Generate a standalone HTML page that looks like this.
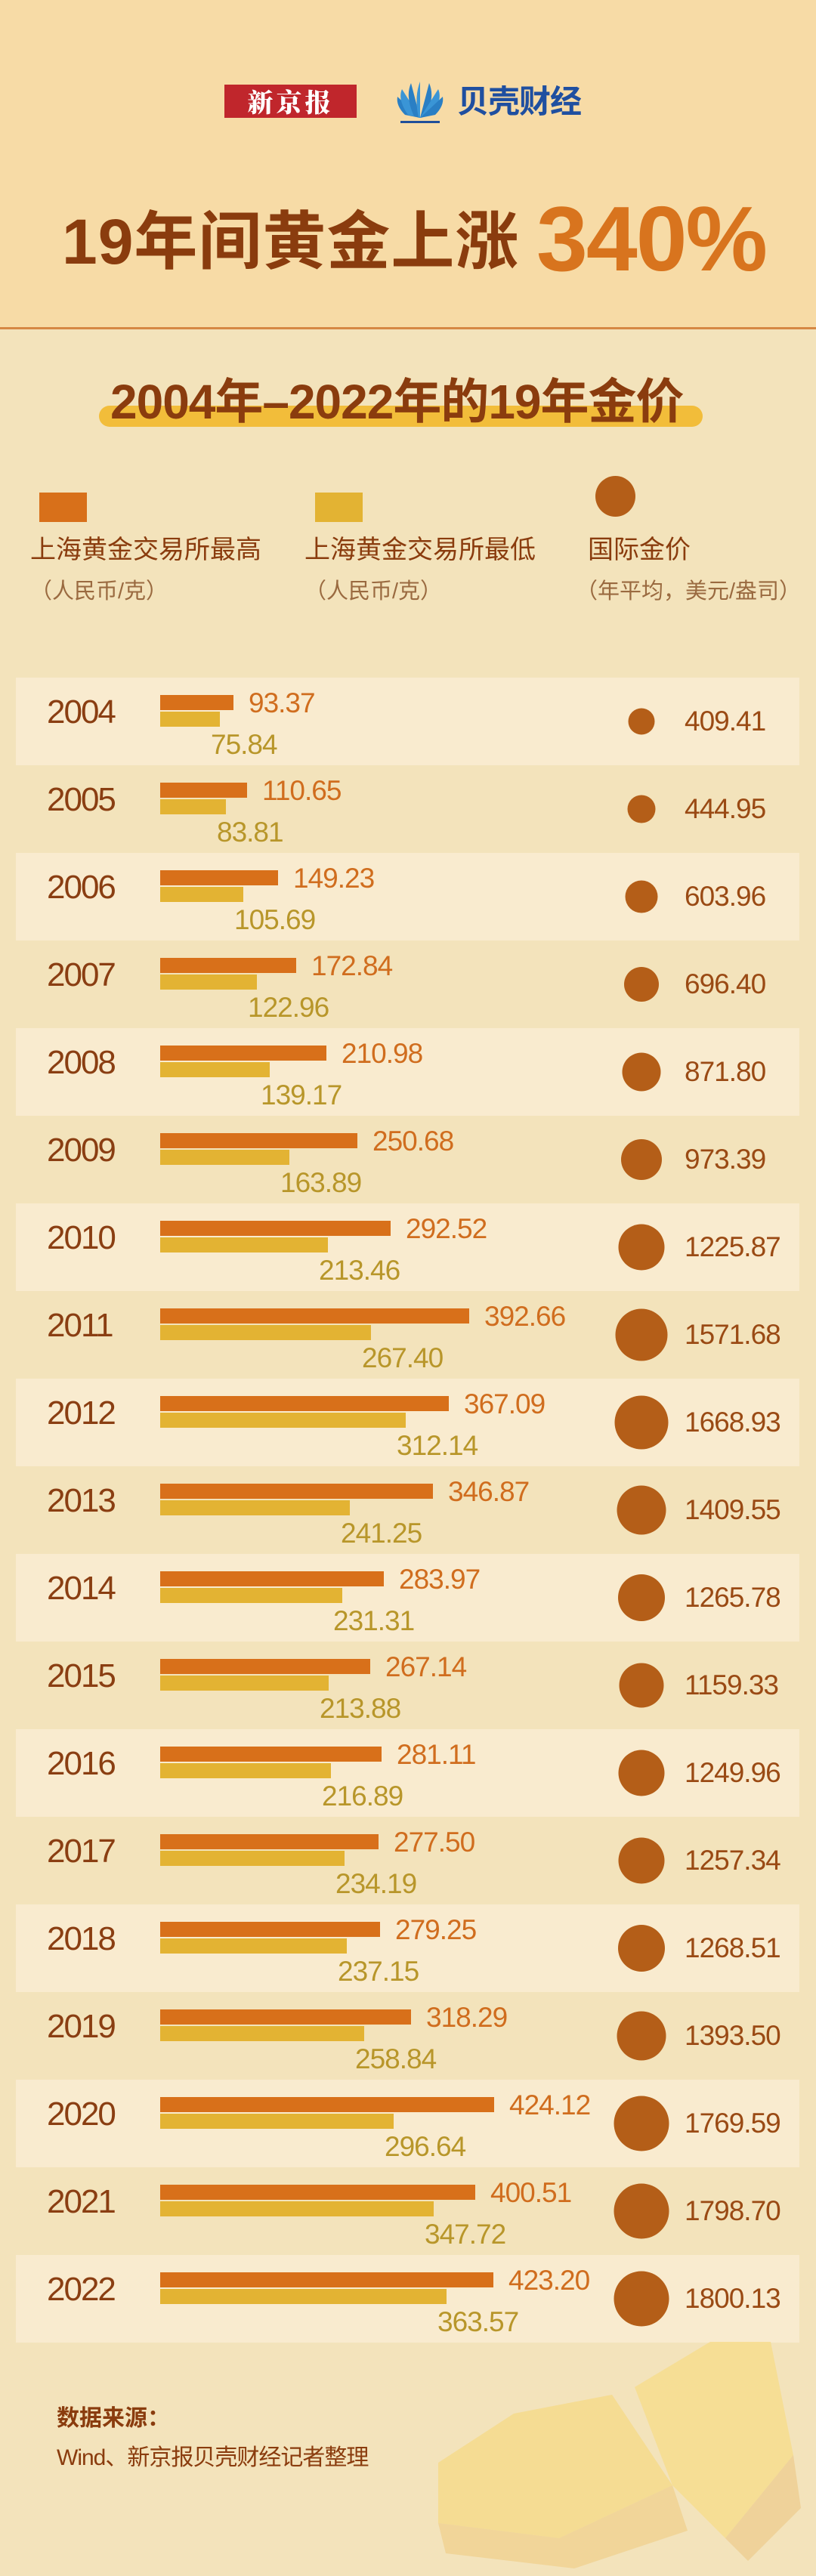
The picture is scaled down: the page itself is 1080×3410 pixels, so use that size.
<!DOCTYPE html>
<html><head><meta charset="utf-8">
<style>
*{margin:0;padding:0;box-sizing:border-box}
body{width:1080px;height:3410px;position:relative;overflow:hidden;background:#f3e3bb;font-family:"Liberation Sans","Noto Sans CJK SC",sans-serif}
.abs{position:absolute}
.hdr{left:0;top:0;width:1080px;height:434px;background:#f7dba6}
.line{left:0;top:433px;width:1080px;height:3px;background:#d68844}
.row{position:absolute;left:21px;width:1037px;height:116px}
.row.b{background:#f9ebcf}
.yr{position:absolute;left:41px;top:24px;font-size:44px;line-height:44px;color:#8a3e12;letter-spacing:-2px}
.o{position:absolute;left:191px;top:23px;height:20px;background:#d8701a}
.y{position:absolute;left:191px;top:45px;height:20px;background:#e3b333}
.o span{position:absolute;left:calc(100% + 20px);top:-8px;font-size:37px;line-height:38px;color:#d06d1e;white-space:nowrap;letter-spacing:-1px}
.y span{position:absolute;left:calc(100% - 12px);top:25px;font-size:37px;line-height:38px;color:#b8962a;white-space:nowrap;letter-spacing:-1px}
.c{position:absolute;border-radius:50%;background:#b45e18;transform:translate(-50%,-50%);left:828px;top:58px}
.v{position:absolute;left:885px;top:39px;font-size:37px;line-height:38px;color:#9a4a14;letter-spacing:-1px}
</style></head><body>
<div class="abs hdr"></div>
<div class="abs line"></div>
<div class="abs" style="left:297px;top:112px;width:175px;height:44px;background:#c0262c;color:#fff;font-family:'Noto Serif CJK SC',serif;font-weight:900;font-size:34px;line-height:44px;text-align:center;letter-spacing:4px">新京报</div>
<svg class="abs" style="left:518px;top:106px" width="76" height="60" viewBox="0 0 76 60">
<g fill="#2a7fc4"><path d="M38 50 L8 22 Q6 34 18 46Z"/><path d="M38 50 L14 12 Q8 26 22 46Z" fill="#3a95d6"/><path d="M38 50 L26 4 Q18 22 30 48Z"/><path d="M38 50 L38 2 Q30 22 36 50Z" fill="#3a95d6"/><path d="M38 50 L50 4 Q58 22 46 48Z"/><path d="M38 50 L62 12 Q68 26 54 46Z" fill="#3a95d6"/><path d="M38 50 L68 22 Q70 34 58 46Z"/></g>
<rect x="12" y="54" width="52" height="3" fill="#1f4f9a"/></svg>
<div class="abs" style="left:605px;top:112px;font-size:42px;line-height:46px;font-weight:bold;color:#1f4fa0;letter-spacing:-1px">贝壳财经</div>
<div class="abs" style="left:82px;top:272px;font-size:84px;line-height:96px;font-weight:bold;color:#8a3c0e;white-space:nowrap;letter-spacing:1px">19年间黄金上涨</div>
<div class="abs" style="left:710px;top:256px;font-size:122px;line-height:120px;font-weight:bold;color:#d8741e;letter-spacing:-2px">340%</div>
<div class="abs" style="left:131px;top:537px;width:799px;height:28px;border-radius:14px;background:#f2bd3a"></div>
<div class="abs" style="left:146px;top:497px;font-size:64px;line-height:70px;font-weight:bold;color:#8a3c0e;white-space:nowrap;letter-spacing:-1px">2004年–2022年的19年金价</div>
<div class="abs" style="left:52px;top:652px;width:63px;height:39px;background:#d8701a"></div>
<div class="abs" style="left:417px;top:652px;width:63px;height:39px;background:#e3b333"></div>
<div class="abs" style="left:788px;top:630px;width:53px;height:54px;border-radius:50%;background:#b45e18"></div>
<div class="abs" style="left:40px;top:708px;font-size:34px;line-height:40px;color:#8a3c0e;white-space:nowrap">上海黄金交易所最高</div>
<div class="abs" style="left:403px;top:708px;font-size:34px;line-height:40px;color:#8a3c0e;white-space:nowrap">上海黄金交易所最低</div>
<div class="abs" style="left:778px;top:708px;font-size:34px;line-height:40px;color:#8a3c0e;white-space:nowrap">国际金价</div>
<div class="abs" style="left:40px;top:765px;font-size:29px;line-height:36px;color:#9a6a40;white-space:nowrap">（人民币/克）</div>
<div class="abs" style="left:403px;top:765px;font-size:29px;line-height:36px;color:#9a6a40;white-space:nowrap">（人民币/克）</div>
<div class="abs" style="left:762px;top:765px;font-size:29px;line-height:36px;color:#9a6a40;white-space:nowrap">（年平均，美元/盎司）</div>

<div class="row b" style="top:897px"><div class="yr">2004</div><div class="o" style="width:97px"><span>93.37</span></div><div class="y" style="width:79px"><span>75.84</span></div><div class="c" style="width:35px;height:35px"></div><div class="v">409.41</div></div>
<div class="row" style="top:1013px"><div class="yr">2005</div><div class="o" style="width:115px"><span>110.65</span></div><div class="y" style="width:87px"><span>83.81</span></div><div class="c" style="width:37px;height:37px"></div><div class="v">444.95</div></div>
<div class="row b" style="top:1129px"><div class="yr">2006</div><div class="o" style="width:156px"><span>149.23</span></div><div class="y" style="width:110px"><span>105.69</span></div><div class="c" style="width:43px;height:43px"></div><div class="v">603.96</div></div>
<div class="row" style="top:1245px"><div class="yr">2007</div><div class="o" style="width:180px"><span>172.84</span></div><div class="y" style="width:128px"><span>122.96</span></div><div class="c" style="width:46px;height:46px"></div><div class="v">696.40</div></div>
<div class="row b" style="top:1361px"><div class="yr">2008</div><div class="o" style="width:220px"><span>210.98</span></div><div class="y" style="width:145px"><span>139.17</span></div><div class="c" style="width:51px;height:51px"></div><div class="v">871.80</div></div>
<div class="row" style="top:1477px"><div class="yr">2009</div><div class="o" style="width:261px"><span>250.68</span></div><div class="y" style="width:171px"><span>163.89</span></div><div class="c" style="width:54px;height:54px"></div><div class="v">973.39</div></div>
<div class="row b" style="top:1593px"><div class="yr">2010</div><div class="o" style="width:305px"><span>292.52</span></div><div class="y" style="width:222px"><span>213.46</span></div><div class="c" style="width:61px;height:61px"></div><div class="v">1225.87</div></div>
<div class="row" style="top:1709px"><div class="yr">2011</div><div class="o" style="width:409px"><span>392.66</span></div><div class="y" style="width:279px"><span>267.40</span></div><div class="c" style="width:69px;height:69px"></div><div class="v">1571.68</div></div>
<div class="row b" style="top:1825px"><div class="yr">2012</div><div class="o" style="width:382px"><span>367.09</span></div><div class="y" style="width:325px"><span>312.14</span></div><div class="c" style="width:71px;height:71px"></div><div class="v">1668.93</div></div>
<div class="row" style="top:1941px"><div class="yr">2013</div><div class="o" style="width:361px"><span>346.87</span></div><div class="y" style="width:251px"><span>241.25</span></div><div class="c" style="width:65px;height:65px"></div><div class="v">1409.55</div></div>
<div class="row b" style="top:2057px"><div class="yr">2014</div><div class="o" style="width:296px"><span>283.97</span></div><div class="y" style="width:241px"><span>231.31</span></div><div class="c" style="width:62px;height:62px"></div><div class="v">1265.78</div></div>
<div class="row" style="top:2173px"><div class="yr">2015</div><div class="o" style="width:278px"><span>267.14</span></div><div class="y" style="width:223px"><span>213.88</span></div><div class="c" style="width:59px;height:59px"></div><div class="v">1159.33</div></div>
<div class="row b" style="top:2289px"><div class="yr">2016</div><div class="o" style="width:293px"><span>281.11</span></div><div class="y" style="width:226px"><span>216.89</span></div><div class="c" style="width:61px;height:61px"></div><div class="v">1249.96</div></div>
<div class="row" style="top:2405px"><div class="yr">2017</div><div class="o" style="width:289px"><span>277.50</span></div><div class="y" style="width:244px"><span>234.19</span></div><div class="c" style="width:61px;height:61px"></div><div class="v">1257.34</div></div>
<div class="row b" style="top:2521px"><div class="yr">2018</div><div class="o" style="width:291px"><span>279.25</span></div><div class="y" style="width:247px"><span>237.15</span></div><div class="c" style="width:62px;height:62px"></div><div class="v">1268.51</div></div>
<div class="row" style="top:2637px"><div class="yr">2019</div><div class="o" style="width:332px"><span>318.29</span></div><div class="y" style="width:270px"><span>258.84</span></div><div class="c" style="width:65px;height:65px"></div><div class="v">1393.50</div></div>
<div class="row b" style="top:2753px"><div class="yr">2020</div><div class="o" style="width:442px"><span>424.12</span></div><div class="y" style="width:309px"><span>296.64</span></div><div class="c" style="width:73px;height:73px"></div><div class="v">1769.59</div></div>
<div class="row" style="top:2869px"><div class="yr">2021</div><div class="o" style="width:417px"><span>400.51</span></div><div class="y" style="width:362px"><span>347.72</span></div><div class="c" style="width:73px;height:73px"></div><div class="v">1798.70</div></div>
<div class="row b" style="top:2985px"><div class="yr">2022</div><div class="o" style="width:441px"><span>423.20</span></div><div class="y" style="width:379px"><span>363.57</span></div><div class="c" style="width:73px;height:73px"></div><div class="v">1800.13</div></div>

<svg class="abs" style="left:560px;top:3100px" width="520" height="310" viewBox="0 0 520 310">
<polygon points="20,160 120,95 250,70 330,190 180,260 20,240" fill="#f5d98a" opacity="0.8"/>
<polygon points="20,240 180,260 330,190 350,250 200,300 30,280" fill="#efcf8a" opacity="0.7"/>
<polygon points="280,60 380,0 460,0 490,150 400,260 330,190" fill="#f6dc8c" opacity="0.8"/>
<polygon points="400,260 490,150 500,220 430,290" fill="#eccb8c" opacity="0.7"/>
</svg>
<div class="abs" style="left:75px;top:3184px;font-size:30px;line-height:36px;font-weight:bold;color:#8a3c0e">数据来源：</div>
<div class="abs" style="left:75px;top:3236px;font-size:30px;line-height:36px;color:#8a3c0e;white-space:nowrap;letter-spacing:-1px">Wind、新京报贝壳财经记者整理</div>
</body></html>
